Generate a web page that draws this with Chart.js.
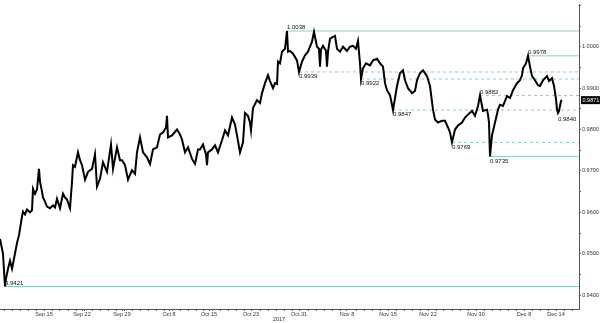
<!DOCTYPE html>
<html>
<head>
<meta charset="utf-8">
<script src="https://cdn.jsdelivr.net/npm/chart.js@4.4.1/dist/chart.umd.min.js"></script>
<style>
  html, body { margin: 0; padding: 0; background: #fff; }
  canvas { display: block; }
</style>
</head>
<body>
<canvas id="chart" width="600" height="323"></canvas>
<script>
// x = hours since the first bar (trading days only, 24h per day)
const hours = [0, 6, 9, 12, 15, 18, 24, 30, 36, 42, 51, 57, 60, 66, 69, 75, 81, 90, 96, 99,
  105, 111, 117, 120, 126, 129, 135, 141, 150, 159, 165, 171, 180, 189, 195, 201, 210, 216, 219, 225,
  234, 240, 246, 255, 264, 276, 285, 291, 300, 309, 321, 333, 339, 351, 360, 366, 375, 384, 396, 405,
  411, 420, 429, 441, 450, 459, 471, 480, 489, 498, 501, 504, 516, 531, 540, 546, 555, 564, 576, 585,
  594, 600, 609, 618, 621, 624, 636, 645, 654, 666, 675, 684, 696, 705, 711, 720, 729, 735, 744, 750,
  753, 759, 771, 780, 786, 795, 804, 810, 819, 825, 831, 834, 840, 846, 855, 861, 864, 870, 879, 891,
  897, 906, 915, 924, 930, 936, 942, 951, 957, 960, 963, 969, 978, 981, 984, 990, 999, 1005, 1011, 1020,
  1029, 1041, 1050, 1059, 1068, 1074, 1080, 1083, 1089, 1098, 1110, 1119, 1131, 1140, 1149, 1155, 1161, 1170, 1176, 1179,
  1185, 1191, 1200, 1209, 1215, 1224, 1236, 1245, 1251, 1260, 1269, 1281, 1290, 1299, 1305, 1314, 1326, 1335, 1344, 1350,
  1356, 1365, 1374, 1386, 1395, 1404, 1416, 1425, 1434, 1440, 1449, 1461, 1464, 1467, 1470, 1476, 1485, 1494, 1500, 1509,
  1521, 1530, 1539, 1551, 1560, 1566, 1569, 1578, 1584, 1590, 1596, 1605, 1614, 1620, 1629, 1641, 1647, 1656, 1662, 1668,
  1671, 1674, 1677, 1683, 1686];

const closes = [0.9536, 0.9512, 0.9500, 0.9460, 0.9421, 0.9440, 0.9464, 0.9483, 0.9464, 0.9488, 0.9526, 0.9545, 0.9560, 0.9590, 0.9602, 0.9595, 0.9607, 0.9600, 0.9605, 0.9657,
  0.9645, 0.9655, 0.9705, 0.9674, 0.9650, 0.9636, 0.9626, 0.9614, 0.9610, 0.9617, 0.9612, 0.9633, 0.9610, 0.9645, 0.9636, 0.9631, 0.9610, 0.9674, 0.9714, 0.9710,
  0.9745, 0.9726, 0.9714, 0.9679, 0.9698, 0.9705, 0.9740, 0.9662, 0.9681, 0.9721, 0.9698, 0.9764, 0.9705, 0.9757, 0.9726, 0.9726, 0.9714, 0.9679, 0.9702, 0.9693,
  0.9745, 0.9781, 0.9745, 0.9733, 0.9717, 0.9752, 0.9757, 0.9788, 0.9793, 0.9805, 0.9833, 0.9781, 0.9786, 0.9800, 0.9788, 0.9776, 0.9745, 0.9757, 0.9729, 0.9717,
  0.9752, 0.9752, 0.9764, 0.9740, 0.9714, 0.9745, 0.9752, 0.9762, 0.9745, 0.9774, 0.9798, 0.9786, 0.9829, 0.9812, 0.9786, 0.9745, 0.9769, 0.9840, 0.9833, 0.9817,
  0.9798, 0.9852, 0.9871, 0.9864, 0.9888, 0.9912, 0.9931, 0.9917, 0.9900, 0.9912, 0.9910, 0.9964, 0.9960, 0.9988, 0.9995, 1.0038, 0.9988, 0.9990, 0.9983, 0.9967,
  0.9939, 0.9964, 0.9979, 0.9988, 1.0000, 1.0012, 1.0036, 1.0000, 0.9995, 0.9952, 0.9993, 1.0002, 0.9990, 0.9952, 0.9988, 1.0019, 1.0024, 1.0026, 0.9995, 0.9988,
  1.0000, 0.9990, 1.0000, 1.0002, 0.9995, 1.0014, 0.9960, 0.9922, 0.9948, 0.9960, 0.9955, 0.9967, 0.9971, 0.9960, 0.9952, 0.9912, 0.9895, 0.9883, 0.9860, 0.9847,
  0.9876, 0.9905, 0.9936, 0.9943, 0.9919, 0.9900, 0.9888, 0.9893, 0.9919, 0.9936, 0.9943, 0.9929, 0.9905, 0.9848, 0.9824, 0.9817, 0.9821, 0.9821, 0.9805, 0.9793,
  0.9769, 0.9800, 0.9810, 0.9817, 0.9829, 0.9836, 0.9845, 0.9833, 0.9857, 0.9882, 0.9845, 0.9848, 0.9836, 0.9817, 0.9735, 0.9786, 0.9817, 0.9848, 0.9860, 0.9857,
  0.9881, 0.9876, 0.9895, 0.9912, 0.9919, 0.9931, 0.9948, 0.9960, 0.9978, 0.9952, 0.9929, 0.9919, 0.9907, 0.9905, 0.9919, 0.9929, 0.9917, 0.9924, 0.9905, 0.9874,
  0.9848, 0.9840, 0.9845, 0.9869, 0.9871];

// swing levels: value, hour where it was set, high/low, major (solid) or minor (dashed)
const levelValues = [1.0038, 0.9978, 0.9939, 0.9922, 0.9882, 0.9847, 0.9769, 0.9735, 0.9421];
const levelFrom   = [861, 1584, 897, 1083, 1440, 1179, 1356, 1470, 15];
const levelKind   = ['high', 'high', 'low', 'low', 'high', 'low', 'low', 'low', 'low'];
const levelMajor  = [true, true, false, false, false, false, false, true, true];

// last swing low, labelled only
const lastLow = { value: 0.9840, hour: 1674 };

const dateLabels = ['Sep 15', 'Sep 22', 'Sep 29', 'Oct 8', 'Oct 15', 'Oct 23', 'Oct 31',
  'Nov 8', 'Nov 15', 'Nov 22', 'Nov 30', 'Dec 8', 'Dec 14'];
const dateHours = [132, 246, 366, 507, 627, 753, 897, 1041, 1164, 1284, 1428, 1572, 1668];
const yearLabel = '2017';
const yearHour = 837;

const priceTicks = [0.94, 0.95, 0.96, 0.97, 0.98, 0.99, 1.00];

const X_MAX = 1737;
const Y_MIN = 0.93667, Y_MAX = 1.01024;
const TEAL = '#8ccfbf';
const AXIS_FONT = { family: 'Liberation Sans', size: 5.5 };

const levelSets = levelValues.map((v, i) => ({
  type: 'line',
  data: [{ x: levelFrom[i], y: v }, { x: X_MAX, y: v }],
  borderColor: TEAL,
  borderWidth: 1,
  borderDash: levelMajor[i] ? [] : [3, 3],
  pointRadius: 0,
  order: 2
}));

const overlay = {
  id: 'overlay',
  afterDatasetsDraw(chart) {
    const { ctx, scales: { x, y }, chartArea } = chart;
    ctx.save();
    ctx.font = '6px "Liberation Sans"';
    ctx.fillStyle = '#111';
    ctx.textAlign = 'left';
    levelValues.forEach((v, i) => {
      const px = x.getPixelForValue(levelFrom[i]);
      const py = y.getPixelForValue(v);
      const above = levelKind[i] === 'high' || v < 0.945;
      ctx.textBaseline = above ? 'bottom' : 'top';
      ctx.fillText(v.toFixed(4), px, above ? py - 0.5 : py + 1.5);
    });
    ctx.textBaseline = 'top';
    ctx.fillText(lastLow.value.toFixed(4), x.getPixelForValue(lastLow.hour), y.getPixelForValue(lastLow.value) + 3);

    // year under the date axis
    ctx.font = '5.5px "Liberation Sans"';
    ctx.fillStyle = '#333';
    ctx.textAlign = 'center';
    ctx.textBaseline = 'middle';
    ctx.fillText(yearLabel, x.getPixelForValue(yearHour), 319.5);

    // last price tag
    const last = closes[closes.length - 1];
    const ly = y.getPixelForValue(last);
    ctx.fillStyle = '#000';
    ctx.fillRect(chartArea.right + 2, ly - 4, 20, 8);
    ctx.fillStyle = '#fff';
    ctx.textAlign = 'left';
    ctx.fillText(last.toFixed(4), chartArea.right + 3.5, ly + 0.3);
    ctx.restore();
  }
};

new Chart(document.getElementById('chart'), {
  type: 'scatter',
  data: {
    datasets: [
      {
        data: hours.map((h, i) => ({ x: h, y: closes[i] })),
        showLine: true,
        borderColor: '#000',
        borderWidth: 2,
        pointRadius: 0,
        tension: 0,
        order: 1
      },
      ...levelSets
    ]
  },
  options: {
    responsive: false,
    animation: false,
    devicePixelRatio: 1,
    layout: { padding: 0 },
    plugins: { legend: { display: false }, tooltip: { enabled: false } },
    scales: {
      x: {
        type: 'linear',
        min: 0,
        max: X_MAX,
        afterFit(scale) { scale.height = 14; },
        afterBuildTicks(scale) {
          const t = dateHours.map(v => ({ value: v }));
          for (let h = 12; h < X_MAX; h += 24) {
            if (!dateHours.some(d => Math.abs(d - h) < 6)) t.push({ value: h });
          }
          t.sort((a, b) => a.value - b.value);
          scale.ticks = t;
        },
        ticks: {
          autoSkip: false,
          maxRotation: 0,
          padding: 0,
          color: '#333',
          font: AXIS_FONT,
          callback(v) {
            const i = dateHours.indexOf(v);
            return i >= 0 ? dateLabels[i] : '';
          }
        },
        grid: { drawOnChartArea: false, tickLength: 2, color: '#666' },
        border: { display: true, color: '#555', width: 1 }
      },
      y: {
        position: 'right',
        min: Y_MIN,
        max: Y_MAX,
        afterFit(scale) { scale.width = 21; },
        afterBuildTicks(scale) {
          const t = [];
          for (let k = 0; k <= 14; k++) t.push({ value: Math.round((0.94 + k * 0.005) * 10000) / 10000 });
          scale.ticks = t;
        },
        ticks: {
          autoSkip: false,
          padding: 1,
          color: '#333',
          font: AXIS_FONT,
          callback(v) {
            const hit = priceTicks.find(p => Math.abs(p - v) < 1e-6);
            return hit !== undefined ? hit.toFixed(4) : '';
          }
        },
        grid: { drawOnChartArea: false, tickLength: 2, color: '#666' },
        border: { display: true, color: '#555', width: 1 }
      }
    }
  },
  plugins: [overlay]
});
</script>
</body>
</html>
